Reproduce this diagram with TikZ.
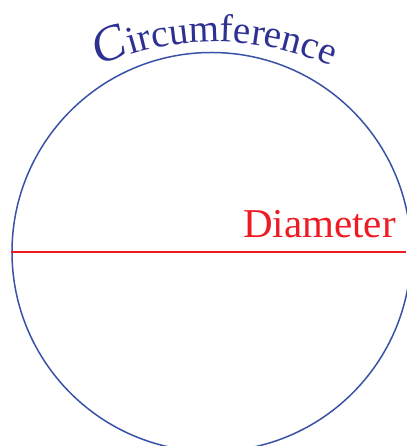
\documentclass[tikz,border=0pt]{standalone}
\usepackage{fontspec}
\setmainfont{Liberation Serif}
\usetikzlibrary{decorations.text}
\definecolor{circblue}{HTML}{3A52A6}
\definecolor{textnavy}{HTML}{2E3192}
\definecolor{diared}{HTML}{ED1C24}
\newcommand\bigCfont{\fontsize{50}{50}\selectfont\itshape}
\newcommand\restfont{\fontsize{39}{39}\selectfont}
\tikzset{
  rimcircle/.style={circle, draw=circblue, line width=1.5pt, minimum size=399pt, inner sep=0pt},
  diamline/.style={draw=diared, line width=2pt},
  dialabel/.style={text=diared, font=\fontsize{41}{41}\selectfont, inner sep=0pt, anchor=base west}
}
\begin{document}
\begin{tikzpicture}[x=1pt,y=1pt]
\useasboundingbox (0,0) rectangle (406,446);
\node[rimcircle] (circ) at (211.5,194) {};
\coordinate (edge) at (406,194);
\draw[diamline] (circ.west) -- (edge);
\node[dialabel] (dlabel) at (243,208) {Diameter};
\coordinate (arcc) at (215,114);
\path[decorate, decoration={text along path, text align=center, text color=textnavy,
  text={|\bigCfont|C|\restfont|ircumference}}]
  (arcc) ++(127:290) arc[start angle=127, end angle=53, radius=290];
\end{tikzpicture}
\end{document}
